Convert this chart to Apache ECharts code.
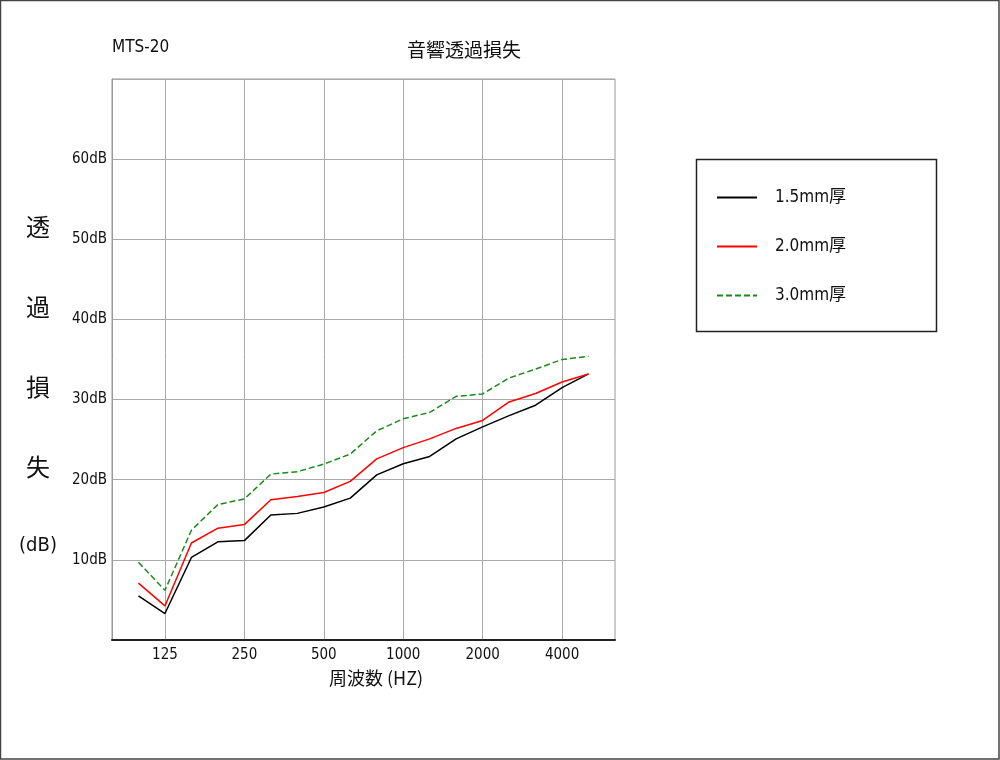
<!DOCTYPE html>
<html><head><meta charset="utf-8">
<script src="https://cdn.jsdelivr.net/npm/echarts@6/dist/echarts.min.js"></script>
<style>html,body{margin:0;padding:0;background:#fff}#c{width:1000px;height:760px}</style>
</head><body><div id="c"></div>
<script>
// third-octave band centre frequencies (Hz), axis runs 80..6300
const freqs = ['80','100','125','160','200','250','315','400','500','630','800','1000','1250','1600','2000','2500','3150','4000','5000','6300'];
const tickFreqs = ['125','250','500','1000','2000','4000'];
const yTicks = [10, 20, 30, 40, 50, 60];
const names = ['1.5mm厚', '2.0mm厚', '3.0mm厚'];
// transmission loss (dB)
const tl15 = [null, 5.5, 3.3, 10.3, 12.25, 12.4, 15.6, 15.8, 16.6, 17.7, 20.6, 22.0, 22.9, 25.1, 26.6, 28.0, 29.3, 31.5, 33.2, null];
const tl20 = [null, 7.1, 4.25, 12.1, 13.95, 14.4, 17.5, 17.9, 18.4, 19.8, 22.6, 24.0, 25.1, 26.4, 27.4, 29.7, 30.75, 32.2, 33.2, null];
const tl30 = [null, 9.7, 6.2, 13.7, 16.9, 17.6, 20.7, 21.0, 21.95, 23.2, 26.1, 27.6, 28.4, 30.4, 30.7, 32.7, 33.8, 35.0, 35.4, null];

const latin = "'Liberation Sans Narrow','DejaVu Sans Condensed','Noto Sans CJK JP',sans-serif";
const cjk = "'Noto Sans CJK JP',sans-serif";

const chart = echarts.init(document.getElementById('c'), null, {renderer: 'canvas'});
chart.setOption({
  backgroundColor: '#fff',
  animation: false,
  grid: {left: 112, right: 385, top: 79, bottom: 120, show: true, borderColor: '#999', borderWidth: 1},
  xAxis: {
    type: 'category', data: freqs, boundaryGap: false,
    axisLine: {show: true, lineStyle: {color: '#222', width: 2}},
    axisTick: {show: false},
    axisLabel: {interval: (i, v) => tickFreqs.includes(v), margin: 8, color: '#111', fontSize: 15, fontFamily: latin},
    splitLine: {show: true, interval: (i, v) => tickFreqs.includes(v), lineStyle: {color: '#aaa', width: 1}}
  },
  yAxis: {
    type: 'value', min: 0, max: 70, interval: 10,
    axisLine: {show: true, lineStyle: {color: '#999', width: 1}},
    axisTick: {show: false},
    axisLabel: {formatter: v => yTicks.includes(v) ? v + 'dB' : '', margin: 5, color: '#111', fontSize: 15, fontFamily: latin},
    splitLine: {show: true, lineStyle: {color: '#aaa', width: 1}}
  },
  legend: {
    orient: 'vertical', left: 711, top: 184, itemWidth: 40, itemHeight: 14, itemGap: 32,
    data: names,
    itemStyle: {opacity: 0},
    textStyle: {fontSize: 17, color: '#111', fontFamily: latin, padding: [0, 0, 0, 13]}
  },
  series: [
    {name: names[0], type: 'line', data: tl15, symbol: 'none', lineStyle: {color: '#000', width: 1.5}, itemStyle: {color: '#000'}},
    {name: names[1], type: 'line', data: tl20, symbol: 'none', lineStyle: {color: '#ff0000', width: 1.5}, itemStyle: {color: '#ff0000'}},
    {name: names[2], type: 'line', data: tl30, symbol: 'none', lineStyle: {color: '#1a8a1a', width: 1.5, type: [6, 3]}, itemStyle: {color: '#1a8a1a'}}
  ],
  graphic: [
    {type: 'rect', z: -1, shape: {x: 0.5, y: 0.5, width: 998.5, height: 758.5}, style: {fill: 'none', stroke: '#444', lineWidth: 1.5}},
    {type: 'rect', shape: {x: 696.5, y: 159.5, width: 240, height: 172}, style: {fill: 'none', stroke: '#222', lineWidth: 1.5}},
    {type: 'text', left: 112, top: 39, style: {text: 'MTS-20', fontSize: 17, fill: '#111', fontFamily: latin}},
    {type: 'text', x: 464, y: 50, style: {text: '音響透過損失', fontSize: 19, fill: '#111', fontFamily: cjk, align: 'center', verticalAlign: 'middle'}},
    {type: 'text', x: 376, y: 678, style: {text: '周波数 (HZ)', fontSize: 18, fill: '#111', fontFamily: cjk, align: 'center', verticalAlign: 'middle'}},
    {type: 'text', x: 38, y: 227, style: {text: '透', fontSize: 24, fill: '#111', fontFamily: cjk, align: 'center', verticalAlign: 'middle'}},
    {type: 'text', x: 38, y: 307, style: {text: '過', fontSize: 24, fill: '#111', fontFamily: cjk, align: 'center', verticalAlign: 'middle'}},
    {type: 'text', x: 38, y: 387, style: {text: '損', fontSize: 24, fill: '#111', fontFamily: cjk, align: 'center', verticalAlign: 'middle'}},
    {type: 'text', x: 38, y: 467, style: {text: '失', fontSize: 24, fill: '#111', fontFamily: cjk, align: 'center', verticalAlign: 'middle'}},
    {type: 'text', x: 38, y: 546, style: {text: '(dB)', fontSize: 20, fill: '#111', fontFamily: latin, align: 'center', verticalAlign: 'middle'}}
  ]
});
</script></body></html>
